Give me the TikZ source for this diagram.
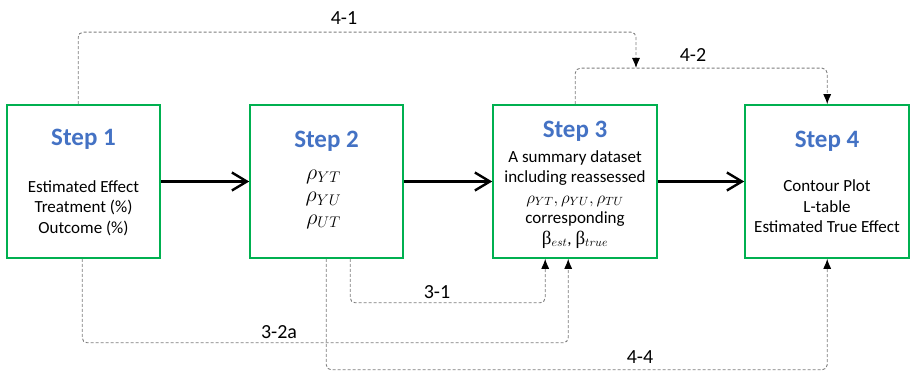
\RequirePackage{fix-cm}
\documentclass[tikz,border=0pt]{standalone}
\usepackage{fontspec}
\setmainfont{Carlito}
\newfontfamily\grkfont{Liberation Serif}
\usetikzlibrary{arrows.meta,positioning}
\definecolor{boxgreen}{RGB}{0,176,80}
\definecolor{stepblue}{RGB}{68,114,196}
\definecolor{linkgray}{RGB}{125,125,125}
\tikzset{
  stepbox/.style={draw=boxgreen, line width=1.6pt, minimum height=153pt, inner sep=0pt},
  steptitle/.style={font=\fontsize{25}{28}\selectfont\bfseries, text=stepblue},
  steptext/.style={font=\fontsize{17}{20.5}\selectfont, align=center},
  flow/.style={line width=2.4pt, -{Straight Barb[length=15pt,width=18pt]}},
  link/.style={draw=linkgray, line width=0.9pt, dash pattern=on 3pt off 2pt, rounded corners=5pt, -{Latex[length=10pt,width=8pt,color=black]}},
  linklabel/.style={font=\fontsize{20}{22}\selectfont}
}

\begin{document}
\begin{tikzpicture}[x=1pt,y=1pt]
	%%%%% START %%%%%
	\useasboundingbox (0,0) rectangle (910,372);
	
	% boxes
	\node[stepbox, minimum width=153pt] (s1) at (83.5,190.5) {};
	\node[stepbox, minimum width=153pt] (s2) at (326.5,190.5) {};
	\node[stepbox, minimum width=164pt] (s3) at (575,190.5) {};
	\node[stepbox, minimum width=164pt] (s4) at (827,190.5) {};
	
	\node[steptitle] (t1) at ([yshift=-35pt]s1.north) {Step 1};
	\node[steptitle] (t2) at ([yshift=-37pt]s2.north) {Step 2};
	\node[steptitle] (t3) at ([yshift=-27pt]s3.north) {Step 3};
	\node[steptitle] (t4) at ([yshift=-37pt]s4.north) {Step 4};
	
	\node[steptext] (b1) at ([yshift=-104pt]s1.north) {Estimated Effect\\Treatment (\%)\\Outcome (\%)};
	\node[steptext, font=\fontsize{22}{22.5}\selectfont] (b2) at ([yshift=-95pt,xshift=-3pt]s2.north) {$\rho_{YT}$\\$\rho_{YU}$\\$\rho_{UT}$};
	\node[steptext] (b3) at ([yshift=-95pt]s3.north) {A summary dataset\\including reassessed\\$\rho_{YT},\rho_{YU},\rho_{TU}$\\corresponding\\{\grkfont\fontsize{19}{20.5}\selectfont β}$_{est}$, {\grkfont\fontsize{19}{20.5}\selectfont β}$_{true}$};
	\node[steptext] (b4) at ([yshift=-102pt]s4.north) {Contour Plot\\L-table\\Estimated True Effect};
	
	% main flow
	\draw[flow] (s1) -- (s2);
	\draw[flow] (s2) -- (s3);
	\draw[flow] (s3) -- (s4);
	
	% feedback links
	\coordinate (m42) at (636,304);
	\draw[link] ([xshift=72pt]s1.north west) -- ++(0,72) -| (m42);
	\draw[link] ([xshift=83pt]s3.north west) -- ++(0,36) -| ([xshift=83pt]s4.north west);
	\draw[link] ([xshift=101pt]s2.south west) -- ++(0,-44) -| ([xshift=53pt]s3.south west);
	\draw[link] ([xshift=76pt]s1.south west) -- ++(0,-84) -| ([xshift=76pt]s3.south west);
	\draw[link] ([xshift=77pt]s2.south west) -- ++(0,-111) -| ([xshift=83pt]s4.south west);
	
	\node[linklabel] (l41) at (344,354) {4-1};
	\node[linklabel] (l42) at (693,317) {4-2};
	\node[linklabel] (l31) at (437,80) {3-1};
	\node[linklabel] (l32) at (279,40) {3-2a};
	\node[linklabel] (l44) at (640,15) {4-4};
	%%%%% END %%%%%
\end{tikzpicture}
\end{document}
